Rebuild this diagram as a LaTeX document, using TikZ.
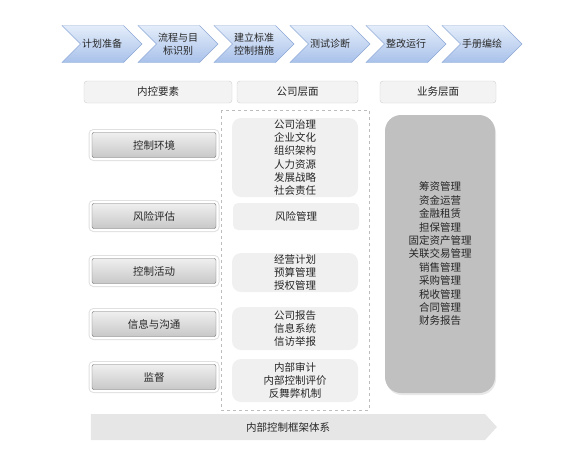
\documentclass[tikz,border=0pt]{standalone}
\usepackage{fontspec}
\setmainfont{Noto Sans CJK SC}
\usepackage{tikz}
\usetikzlibrary{shapes.symbols,shadows}
\definecolor{chevtop}{HTML}{E4EDFA}
\definecolor{chevbottom}{HTML}{A8C1EA}
\definecolor{chevline}{HTML}{8DA8D6}
\definecolor{headfill}{HTML}{F3F3F3}
\definecolor{headline}{HTML}{CFCFCF}
\definecolor{btntop}{HTML}{EFEFEF}
\definecolor{btnbottom}{HTML}{C8C8C8}
\definecolor{btnline}{HTML}{6E6E6E}
\definecolor{itemfill}{HTML}{F0F0F0}
\definecolor{bizfill}{HTML}{C0C0C0}
\definecolor{basefill}{HTML}{E6E6E6}
\definecolor{textgray}{HTML}{262626}
\definecolor{dashgray}{HTML}{BDBDBD}
\tikzset{
  phase/.style={
    signal,
    signal from=west,
    signal to=east,
    signal pointer angle=90,
    top color=chevtop,
    bottom color=chevbottom,
    draw=chevline,
    minimum width=80pt,
    minimum height=37pt,
    inner sep=0pt,
    align=center,
    text=textgray,
    font=\fontsize{10}{12.5}\selectfont
  },
  header/.style={
    rectangle,
    rounded corners=3pt,
    draw=headline,
    fill=headfill,
    minimum height=22pt,
    inner sep=0pt,
    text=textgray,
    font=\fontsize{10.5}{13}\selectfont
  },
  element/.style={
    rectangle,
    rounded corners=2pt,
    preaction={draw=black!12, line width=7pt},
    preaction={draw=white, line width=5pt},
    top color=btntop,
    bottom color=btnbottom,
    draw=btnline,
    minimum width=124pt,
    minimum height=25pt,
    inner sep=0pt,
    text=textgray,
    font=\fontsize{10.5}{13}\selectfont
  },
  item/.style={
    rectangle,
    rounded corners=9pt,
    fill=itemfill,
    minimum width=126pt,
    inner sep=0pt,
    align=center,
    text=textgray,
    font=\fontsize{10.5}{13.2}\selectfont
  },
  business/.style={
    rectangle,
    rounded corners=16pt,
    fill=bizfill,
    drop shadow={opacity=0.18, shadow xshift=1pt, shadow yshift=-2pt},
    minimum width=110pt,
    minimum height=278pt,
    inner sep=0pt,
    align=center,
    text=textgray,
    font=\fontsize{10.5}{13.4}\selectfont
  },
  framework/.style={
    signal,
    signal to=east,
    signal pointer angle=95,
    fill=basefill,
    minimum width=406pt,
    minimum height=26pt,
    inner sep=0pt,
    text=textgray,
    font=\fontsize{10.5}{13}\selectfont
  }
}

\begin{document}
\begin{tikzpicture}[x=1pt,y=-1pt]
  \useasboundingbox (0,0) rectangle (575,472);

  % phases along the top
  \node[phase] (plan)    at (102,44) {计划准备};
  \node[phase] (process) at (178,44) {流程与目\\标识别};
  \node[phase] (design)  at (254,44) {建立标准\\控制措施};
  \node[phase] (test)    at (330,44) {测试诊断};
  \node[phase] (fix)     at (406,44) {整改运行};
  \node[phase] (manual)  at (482,44) {手册编绘};

  % column headers
  \node[header, minimum width=148pt] (elements) at (158,92)   {内控要素};
  \node[header, minimum width=121pt] (company)  at (297.5,92) {公司层面};
  \node[header, minimum width=116pt] (business) at (438,92)   {业务层面};

  % company level frame
  \draw[dashgray, dashed] (221,110) rectangle (369,410);

  % five elements
  \node[element] (env)      at (154,145) {控制环境};
  \node[element] (risk)     at (154,216) {风险评估};
  \node[element] (activity) at (154,271) {控制活动};
  \node[element] (info)     at (154,324) {信息与沟通};
  \node[element] (monitor)  at (154,377) {监督};

  % company level items
  \node[item, minimum height=79pt] (envitems) at (295,157.5)
    {公司治理\\企业文化\\组织架构\\人力资源\\发展战略\\社会责任};
  \node[item, minimum height=27pt, rounded corners=5pt] (riskitems) at (296,216.5) {风险管理};
  \node[item, minimum height=39pt] (actitems) at (295,272.5)
    {经营计划\\预算管理\\授权管理};
  \node[item, minimum height=43pt] (infoitems) at (295,328.5)
    {公司报告\\信息系统\\信访举报};
  \node[item, minimum height=43pt] (monitems) at (295,380.5)
    {内部审计\\内部控制评价\\反舞弊机制};

  % business level
  \node[business] (bizitems) at (440,254)
    {筹资管理\\资金运营\\金融租赁\\担保管理\\固定资产管理\\关联交易管理\\销售管理\\采购管理\\税收管理\\合同管理\\财务报告};

  % framework base
  \node[framework] (base) at (288,427) {内部控制框架体系};
\end{tikzpicture}
\end{document}
